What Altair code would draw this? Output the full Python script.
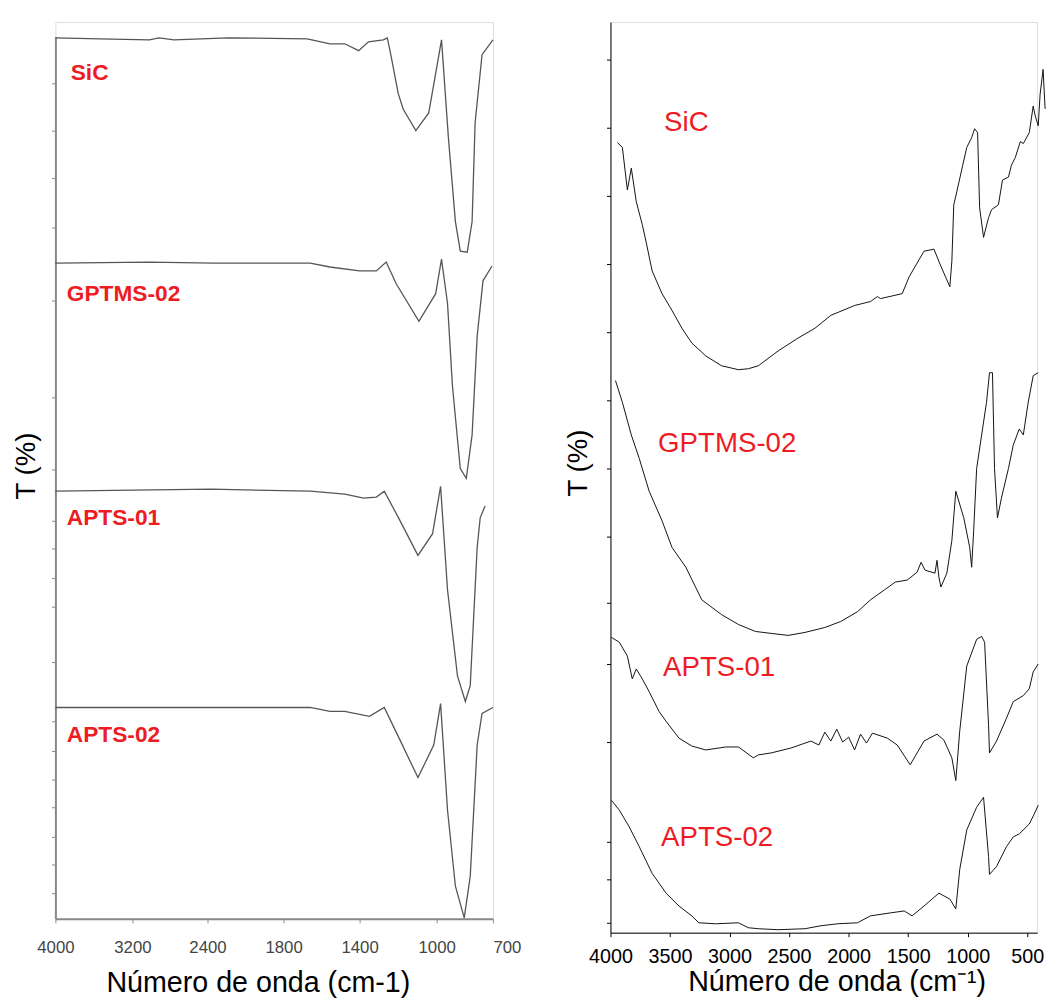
import altair as alt
import pandas as pd

# ---------------- data ----------------
# Left panel (wavenumber cm-1, transmittance arbitrary offset units)
L_SIC_WN = [4000, 3538, 3021, 2916, 2758, 2236, 1675, 1556, 1478, 1405, 1354, 1277, 1256, 1236,
            1200, 1174, 1108, 1041, 1005, 974, 937, 900, 874, 837, 811, 795, 758, 700]
L_SIC_T = [89.2, 89.1, 89.0, 89.2, 89.0, 89.2, 89.1, 88.6, 88.6, 87.9, 88.8, 89.0, 89.2, 87.3,
           83.6, 82.0, 79.8, 81.6, 85.6, 89.0, 79.0, 70.6, 67.6, 67.5, 70.6, 80.6, 87.5, 89.0]

L_GPT_WN = [4000, 3021, 2353, 1660, 1556, 1400, 1313, 1262, 1210, 1092, 1005, 974, 942, 916,
            874, 842, 811, 784, 753, 705]
L_GPT_T = [66.4, 66.5, 66.4, 66.4, 66.0, 65.6, 65.6, 66.5, 64.3, 60.5, 63.3, 66.8, 62.3, 54.0,
           45.6, 44.6, 49.0, 59.0, 64.6, 66.1]

L_A1_WN = [4000, 2369, 1660, 1478, 1379, 1313, 1272, 1195, 1097, 1021, 979, 942, 889, 847,
           821, 784, 768, 742]
L_A1_T = [43.3, 43.5, 43.3, 43.0, 42.6, 42.7, 43.3, 40.5, 36.8, 39.0, 43.8, 33.3, 24.6, 22.0,
          23.6, 37.6, 40.6, 41.8]

L_A2_WN = [4000, 1660, 1556, 1478, 1349, 1272, 1200, 1097, 1015, 979, 942, 900, 853, 821,
           784, 758, 700]
L_A2_T = [21.4, 21.4, 21.0, 21.0, 20.5, 21.4, 18.5, 14.3, 17.6, 21.8, 11.0, 3.3, 0.1, 4.3,
          17.6, 20.8, 21.4]

L_LABELS = ["SiC", "GPTMS-02", "APTS-01", "APTS-02"]
L_LABEL_WN = [3841, 3882, 3882, 3882]
L_LABEL_T = [85.6, 63.3, 40.6, 18.6]

L_XTICKS = [4000, 3600, 3200, 2800, 2400, 2100, 1800, 1600, 1400, 1200, 1000, 800, 700]
L_XLABELED = [4000, 3200, 2400, 1800, 1400, 1000, 700]
L_YTICKS = [84.6, 79.8, 75.0, 70.0, 62.6, 52.8, 45.5, 40.3, 37.5, 34.5, 31.6, 26.0, 20.0,
            17.0, 14.1, 11.3, 8.3, 5.5, 2.6]

# Right panel
R_SIC_WN = [3942, 3900, 3858, 3825, 3783, 3733, 3700, 3650, 3567, 3483, 3400, 3317, 3200, 3067,
            2925, 2842, 2758, 2592, 2425, 2283, 2150, 1950, 1817, 1758, 1733, 1550, 1492, 1367,
            1283, 1233, 1150, 1133, 1117, 1092, 1042, 1008, 967, 942, 917, 900, 867, 825, 800,
            742, 708, 658, 633, 600, 558, 533, 483, 450, 433, 408, 392, 367, 350]
R_SIC_T = [80.0, 79.5, 75.2, 77.4, 74.0, 71.7, 69.9, 67.0, 64.7, 63.0, 61.2, 59.7, 58.4, 57.4,
           57.0, 57.1, 57.4, 58.9, 60.2, 61.2, 62.5, 63.5, 63.9, 64.4, 64.2, 64.7, 66.4, 69.0,
           69.2, 67.7, 65.4, 68.0, 73.7, 75.0, 77.7, 79.5, 80.5, 81.4, 81.0, 73.4, 70.4, 72.4,
           73.2, 73.7, 76.2, 76.5, 77.7, 78.5, 80.1, 79.9, 81.0, 83.7, 82.7, 81.7, 84.9, 87.4,
           83.4]

R_GPT_WN = [3958, 3900, 3825, 3758, 3675, 3567, 3483, 3367, 3233, 3067, 2925, 2783, 2650, 2508,
            2367, 2200, 2067, 1925, 1817, 1700, 1608, 1508, 1425, 1392, 1358, 1275, 1258, 1242,
            1225, 1175, 1133, 1100, 1033, 983, 967, 950, 925, 883, 842, 817, 792, 775, 750, 717,
            658, 617, 567, 533, 492, 450, 408]
R_GPT_T = [55.9, 53.7, 50.4, 48.0, 44.7, 41.7, 39.0, 37.0, 33.7, 32.2, 31.2, 30.5, 30.3, 30.1,
           30.4, 30.9, 31.5, 32.5, 33.7, 34.7, 35.5, 35.7, 36.5, 37.5, 36.7, 36.4, 37.7, 36.0,
           35.0, 36.4, 39.7, 44.7, 42.0, 39.0, 37.0, 40.7, 47.0, 50.4, 53.7, 56.7, 56.7, 47.0,
           42.0, 44.0, 47.0, 49.4, 51.0, 50.4, 53.7, 56.4, 56.7]

R_A1_WN = [3992, 3925, 3858, 3817, 3783, 3733, 3675, 3592, 3533, 3425, 3317, 3200, 3033, 2925,
           2800, 2758, 2650, 2483, 2317, 2250, 2200, 2150, 2100, 2050, 2000, 1950, 1900, 1850,
           1800, 1675, 1592, 1483, 1367, 1258, 1200, 1133, 1100, 1067, 1008, 925, 883, 858,
           825, 817, 758, 675, 617, 533, 483, 450, 408]
R_A1_T = [29.9, 29.4, 28.0, 25.7, 26.7, 25.7, 24.4, 22.4, 21.4, 19.7, 18.9, 18.5, 18.8, 18.8,
          17.7, 18.0, 18.2, 18.7, 19.4, 19.0, 20.3, 19.4, 20.6, 19.3, 19.8, 18.5, 20.1, 19.2,
          20.2, 19.7, 19.0, 17.0, 19.4, 20.1, 19.5, 17.7, 15.4, 20.4, 27.0, 29.7, 30.0, 29.4,
          21.0, 18.2, 19.4, 21.7, 23.4, 24.0, 24.7, 26.4, 27.2]

R_A2_WN = [3992, 3925, 3842, 3758, 3650, 3533, 3425, 3317, 3258, 3117, 2925, 2842, 2758, 2592,
           2367, 2233, 2092, 1925, 1817, 1650, 1533, 1467, 1367, 1242, 1150, 1100, 1067, 1008,
           925, 867, 825, 817, 758, 675, 617, 567, 483, 442, 408]
R_A2_T = [13.4, 12.4, 10.7, 8.7, 6.0, 4.0, 2.7, 1.7, 1.0, 0.9, 1.0, 0.5, 0.4, 0.3,
          0.4, 0.7, 0.9, 1.0, 1.7, 2.0, 2.2, 1.7, 2.7, 4.0, 3.4, 2.4, 6.4, 10.4,
          12.7, 13.7, 7.7, 5.9, 6.7, 8.7, 9.7, 10.0, 11.0, 12.0, 12.9]

R_LABELS = ["SiC", "GPTMS-02", "APTS-01", "APTS-02"]
R_LABEL_WN = [3550, 3600, 3558, 3575]
R_LABEL_T = [82.0, 49.5, 26.8, 9.6]

R_XTICKS = [4000, 3750, 3500, 3250, 3000, 2750, 2500, 2250, 2000, 1750, 1500, 1250, 1000, 750, 500]
R_YTICKS = [88.4, 85.0, 81.5, 78.0, 74.6, 71.1, 67.7, 64.2, 60.8, 57.4, 53.9, 50.5, 47.0, 43.5,
            40.1, 36.8, 33.4, 29.4, 27.2, 23.5, 19.3, 17.3, 9.2, 7.4, 5.4, 3.0, 1.0]

# ---------------- layout / style constants ----------------
FONT = "Liberation Sans"
RED = "#ed1c24"
L_BREAK_PX = [0, 78, 154, 231, 308, 386, 443]
L_W, L_H = 443, 908
R_W, R_H = 432, 922


def traces(names, wns, ts):
    frames = [pd.DataFrame({"wn": w, "T": t, "sample": n}) for n, w, t in zip(names, wns, ts)]
    return pd.concat(frames, ignore_index=True)


left_df = traces(L_LABELS, [L_SIC_WN, L_GPT_WN, L_A1_WN, L_A2_WN],
                 [L_SIC_T, L_GPT_T, L_A1_T, L_A2_T])
right_df = traces(R_LABELS, [R_SIC_WN, R_GPT_WN, R_A1_WN, R_A2_WN],
                  [R_SIC_T, R_GPT_T, R_A1_T, R_A2_T])
left_lab = pd.DataFrame({"wn": L_LABEL_WN, "T": L_LABEL_T, "name": L_LABELS})
right_lab = pd.DataFrame({"wn": R_LABEL_WN, "T": R_LABEL_T, "name": R_LABELS})

# ---------------- left panel ----------------
lx = alt.X(
    "wn:Q",
    scale=alt.Scale(domain=L_XLABELED, range=L_BREAK_PX, nice=False, zero=False),
    axis=alt.Axis(
        title="Número de onda (cm-1)", values=L_XTICKS, format="d",
        labelOverlap=False, labelFlush=False,
        labelExpr="indexof([4000, 3200, 2400, 1800, 1400, 1000, 700], datum.value) >= 0 ? datum.label : ''",
        labelAlign={"condition": {"test": "datum.value == 700", "value": "left"}, "value": "center"},
        labelFontSize=17, labelColor="#444", labelPadding=17,
        titleFontSize=29, titleFontWeight="normal", titleColor="#000", titlePadding=14,
        titleX=205,
        domainColor="#888", domainWidth=2, tickColor="#888", tickSize=4, grid=False,
    ),
)
ly = alt.Y(
    "T:Q",
    scale=alt.Scale(domain=[0, 89.3], range=[L_H, 15], nice=False, zero=False),
    axis=alt.Axis(
        title="T (%)", values=L_YTICKS, labels=False, grid=False,
        titleFontSize=28, titleFontWeight="normal", titleColor="#000", titlePadding=11,
        titleY=449, domainColor="#888", domainWidth=2, tickColor="#888", tickSize=4,
    ),
)
left_lines = alt.Chart(left_df).mark_line(color="#555", strokeWidth=1.3).encode(
    x=lx, y=ly, detail="sample:N")
left_text = alt.Chart(left_lab).mark_text(
    align="left", baseline="middle", font=FONT, fontSize=23, fontWeight="bold", color=RED
).encode(x="wn:Q", y="T:Q", text="name:N")
left = alt.layer(left_lines, left_text).properties(width=L_W, height=L_H)

# ---------------- right panel ----------------
rx = alt.X(
    "wn:Q",
    scale=alt.Scale(domain=[4000, 417], nice=False, zero=False),
    axis=alt.Axis(
        title="Número de onda (cm⁻¹)", values=R_XTICKS, format="d",
        labelOverlap=False, labelFlush=False,
        labelExpr="datum.value % 500 == 0 ? datum.label : ''",
        labelFontSize=20, labelColor="#000", labelPadding=10,
        titleFontSize=29, titleFontWeight="normal", titleColor="#000", titlePadding=2,
        titleX=229,
        domainColor="#000", domainWidth=1, tickColor="#000", tickSize=4, grid=False,
    ),
)
ry = alt.Y(
    "T:Q",
    scale=alt.Scale(domain=[0, 92.2], nice=False, zero=False),
    axis=alt.Axis(
        title="T (%)", values=R_YTICKS, labels=False, grid=False,
        titleFontSize=28, titleFontWeight="normal", titleColor="#000", titlePadding=14,
        titleY=446, domainColor="#000", domainWidth=1, tickColor="#000", tickSize=4,
    ),
)
right_lines = alt.Chart(right_df).mark_line(color="#111", strokeWidth=1).encode(
    x=rx, y=ry, detail="sample:N")
right_text = alt.Chart(right_lab).mark_text(
    align="left", baseline="middle", font=FONT, fontSize=28, color=RED
).encode(x="wn:Q", y="T:Q", text="name:N")
right = alt.layer(right_lines, right_text).properties(width=R_W, height=R_H)

chart = alt.hconcat(left, right, spacing=43).properties(
    padding={"left": 4, "top": 7, "right": 0, "bottom": 0}
).configure_axis(
    labelFont=FONT, titleFont=FONT
).configure_view(strokeWidth=0).configure(background="white")

chart.save("out.html", embed_options={"renderer": "svg", "actions": False})
